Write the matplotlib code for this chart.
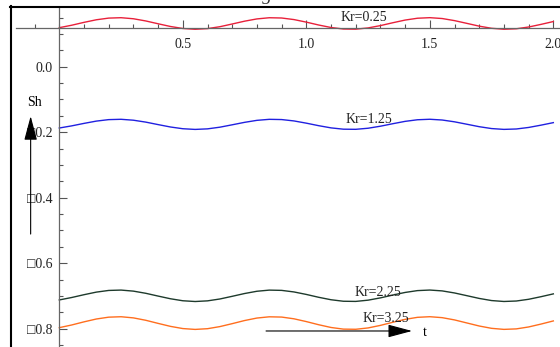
import matplotlib
matplotlib.use("Agg")
import matplotlib.pyplot as plt
from matplotlib.lines import Line2D
import numpy as np

plt.rcParams['font.family'] = ['Liberation Serif', 'DejaVu Serif']

# time samples
t = [round(0.05 * k, 2) for k in range(41)]

# Sherwood number for each Kr
sh_kr025 = [0.1192, 0.1266, 0.1354, 0.1433, 0.1484, 0.1496, 0.1464, 0.1397, 0.1311, 0.1228,
            0.1167, 0.1143, 0.1163, 0.1221, 0.1304, 0.1390, 0.1459, 0.1495, 0.1487, 0.1439,
            0.1361, 0.1273, 0.1197, 0.1151, 0.1146, 0.1184, 0.1255, 0.1342, 0.1424, 0.1480,
            0.1497, 0.1471, 0.1407, 0.1323, 0.1238, 0.1173, 0.1144, 0.1158, 0.1212, 0.1292,
            0.1379]
sh_kr125 = [-0.1872, -0.1807, -0.1731, -0.1661, -0.1616, -0.1606, -0.1634, -0.1692, -0.1768, -0.1841,
            -0.1894, -0.1915, -0.1898, -0.1847, -0.1774, -0.1699, -0.1638, -0.1607, -0.1614, -0.1656,
            -0.1724, -0.1801, -0.1868, -0.1908, -0.1912, -0.1879, -0.1817, -0.1741, -0.1669, -0.1620,
            -0.1605, -0.1628, -0.1683, -0.1757, -0.1832, -0.1889, -0.1914, -0.1902, -0.1855, -0.1785,
            -0.1708]
sh_kr225 = [-0.7122, -0.7048, -0.6962, -0.6883, -0.6832, -0.6821, -0.6853, -0.6919, -0.7004, -0.7086,
            -0.7147, -0.7170, -0.7150, -0.7093, -0.7011, -0.6926, -0.6857, -0.6822, -0.6830, -0.6878,
            -0.6954, -0.7041, -0.7116, -0.7162, -0.7167, -0.7129, -0.7059, -0.6973, -0.6893, -0.6837,
            -0.6820, -0.6846, -0.6909, -0.6992, -0.7076, -0.7141, -0.7169, -0.7155, -0.7102, -0.7023,
            -0.6937]
sh_kr325 = [-0.7968, -0.7887, -0.7791, -0.7704, -0.7648, -0.7635, -0.7670, -0.7743, -0.7838, -0.7929,
            -0.7996, -0.8022, -0.8000, -0.7936, -0.7846, -0.7751, -0.7675, -0.7637, -0.7645, -0.7698,
            -0.7783, -0.7879, -0.7963, -0.8013, -0.8018, -0.7977, -0.7899, -0.7804, -0.7715, -0.7653,
            -0.7634, -0.7663, -0.7732, -0.7825, -0.7918, -0.7989, -0.8021, -0.8006, -0.7947, -0.7859,
            -0.7763]

series = [sh_kr025, sh_kr125, sh_kr225, sh_kr325]
colors = ['#e8203a', '#2020e0', '#1e3a2c', '#ff6e1e']
labels = ['Kr=0.25', 'Kr=1.25', 'Kr=2.25', 'Kr=3.25']
label_pos = [(1.234, 0.141), (1.254, -0.172), (1.290, -0.700), (1.323, -0.779)]

x_major = [0.5, 1.0, 1.5, 2.0]
x_major_labels = ['0.5', '1.0', '1.5', '2.0']
y_major = [-0.8, -0.6, -0.4, -0.2, 0.0]
y_major_labels = ['\u25a10.8', '\u25a10.6', '\u25a10.4', '\u25a10.2', '0.0']

fig = plt.figure(figsize=(5.6, 3.47), dpi=100)
ax = fig.add_axes([16 / 560, 0, 544 / 560, 340 / 347])
ax.set_xlim(-0.1753, 2.027)
ax.set_ylim(-0.8559, 0.1823)

for ys, c in zip(series, colors):
    ax.plot(t, ys, color=c, lw=1.0)

for (lx, ly), txt in zip(label_pos, labels):
    ax.text(lx, ly, txt, ha='center', va='baseline', fontsize=10, color='#222222')

# axes crossing inside the plot
for s in ['top', 'right']:
    ax.spines[s].set_visible(False)
ax.spines['left'].set_position(('data', 0))
ax.spines['bottom'].set_position(('data', 0.118))
for s in ['left', 'bottom']:
    ax.spines[s].set_color('#666666')
    ax.spines[s].set_linewidth(0.9)

ax.set_xticks(x_major)
ax.set_xticklabels(x_major_labels)
ax.set_xticks([round(v, 2) for v in np.arange(-0.1, 2.01, 0.1)], minor=True)
ax.set_yticks(y_major)
ax.set_yticklabels(y_major_labels)
ax.set_yticks([round(v, 2) for v in np.arange(-0.85, 0.16, 0.05)], minor=True)

ax.tick_params(axis='both', which='both', direction='in', color='#555555', width=0.8,
               labelsize=10, labelcolor='#222222')
ax.tick_params(which='major', length=5.5)
ax.tick_params(which='minor', length=2.8)
ax.tick_params(axis='x', which='major', pad=7.0)
ax.tick_params(axis='y', which='major', pad=4.8)

# direction arrows
arrow_kw = dict(arrowstyle='-|>,head_length=15,head_width=4', mutation_scale=1,
                color='black', lw=0.8, shrinkA=0, shrinkB=0)
ax.annotate('', xy=(1.428, -0.807), xytext=(0.837, -0.807), arrowprops=arrow_kw,
            annotation_clip=False)
ax.annotate('', xy=(-0.116, -0.151), xytext=(-0.116, -0.511), arrowprops=arrow_kw,
            annotation_clip=False)
ax.text(1.478, -0.822, 't', ha='center', va='baseline', fontsize=10)
ax.text(-0.1016, -0.120, 'Sh', ha='center', va='baseline', fontsize=10)

# frame lines
fig.add_artist(Line2D([11 / 560, 11 / 560], [0, 1 - 6 / 347], color='black', lw=1.5,
                      transform=fig.transFigure))
fig.add_artist(Line2D([10 / 560, 1], [1 - 7 / 347, 1 - 7 / 347], color='black', lw=1.5,
                      transform=fig.transFigure))
fig.text(245 / 560, 1 - 0.5 / 347, 'Figure 6', ha='left', va='baseline', fontsize=14,
         style='italic', color='#333333')

fig.savefig('out.png', dpi=100)
